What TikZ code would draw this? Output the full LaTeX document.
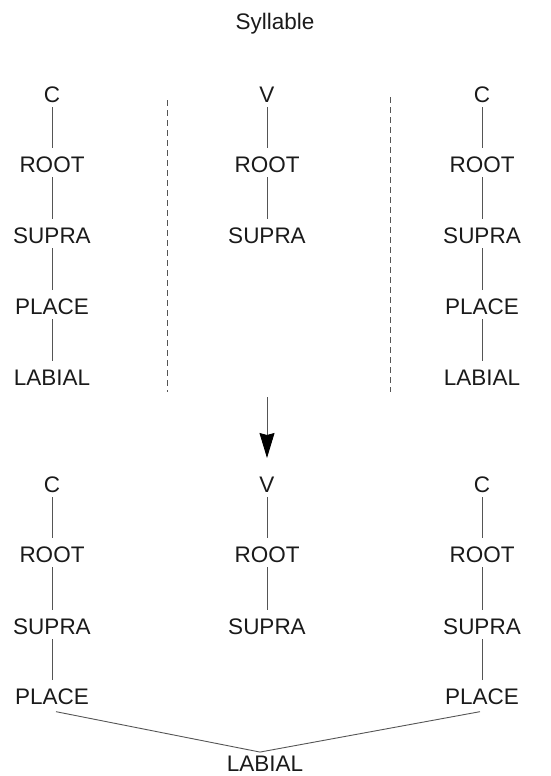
\documentclass[tikz,border=0pt]{standalone}
\usepackage{fontspec}
\setmainfont{Liberation Sans}
\usetikzlibrary{arrows.meta}
\definecolor{txt}{HTML}{1A1A1A}
\definecolor{ln}{HTML}{555555}
\tikzset{
  lbl/.style={inner sep=0pt, text=txt, font=\fontsize{22.5}{24}\selectfont},
  br/.style={draw=ln, line width=0.9pt},
  dsh/.style={draw=ln, line width=0.9pt, dash pattern=on 6pt off 4pt},
}
\newcommand{\lnk}[2]{\draw[br] ([yshift=-4pt]#1.south) -- ([yshift=9pt]#2.north);}
\begin{document}
\begin{tikzpicture}[x=1pt,y=-1pt]
\useasboundingbox (0,0) rectangle (550,776);
\node[lbl] (syl) at (275,24) {Syllable};
% top
\node[lbl] (c1) at (52,95) {C};
\node[lbl] (r1) at (52,165) {ROOT};
\node[lbl] (s1) at (52,236) {SUPRA};
\node[lbl] (p1) at (52,307) {PLACE};
\node[lbl] (l1) at (52,378) {LABIAL};
\node[lbl] (v2) at (267,95) {V};
\node[lbl] (r2) at (267,165) {ROOT};
\node[lbl] (s2) at (267,236) {SUPRA};
\node[lbl] (c3) at (482,95) {C};
\node[lbl] (r3) at (482,165) {ROOT};
\node[lbl] (s3) at (482,236) {SUPRA};
\node[lbl] (p3) at (482,307) {PLACE};
\node[lbl] (l3) at (482,378) {LABIAL};
\lnk{c1}{r1}\lnk{r1}{s1}\lnk{s1}{p1}\lnk{p1}{l1}
\lnk{v2}{r2}\lnk{r2}{s2}
\lnk{c3}{r3}\lnk{r3}{s3}\lnk{s3}{p3}\lnk{p3}{l3}
\coordinate (d1a) at (167,100); \coordinate (d1b) at (167,392);
\coordinate (d2a) at (390,97); \coordinate (d2b) at (390,392);
\draw[dsh] (d1a) -- (d1b);
\draw[dsh] (d2a) -- (d2b);
% arrow
\coordinate (aa) at (267,397); \coordinate (ab) at (267,458);
\draw[draw=ln, line width=0.9pt, -{Stealth[length=25pt,width=15pt,inset=2pt,color=black]}] (aa) -- (ab);
% bottom
\node[lbl] (c4) at (52,485) {C};
\node[lbl] (r4) at (52,555) {ROOT};
\node[lbl] (s4) at (52,627) {SUPRA};
\node[lbl] (p4) at (52,697) {PLACE};
\node[lbl] (v5) at (267,485) {V};
\node[lbl] (r5) at (267,555) {ROOT};
\node[lbl] (s5) at (267,627) {SUPRA};
\node[lbl] (c6) at (482,485) {C};
\node[lbl] (r6) at (482,555) {ROOT};
\node[lbl] (s6) at (482,627) {SUPRA};
\node[lbl] (p6) at (482,697) {PLACE};
\node[lbl] (l7) at (265,764) {LABIAL};
\lnk{c4}{r4}\lnk{r4}{s4}\lnk{s4}{p4}
\lnk{v5}{r5}\lnk{r5}{s5}
\lnk{c6}{r6}\lnk{r6}{s6}\lnk{s6}{p6}
\draw[br] ([xshift=4pt,yshift=-6.5pt]p4.south) -- ([xshift=-5pt,yshift=4pt]l7.north) -- ([xshift=-2pt,yshift=-6.5pt]p6.south);
\end{tikzpicture}
\end{document}
